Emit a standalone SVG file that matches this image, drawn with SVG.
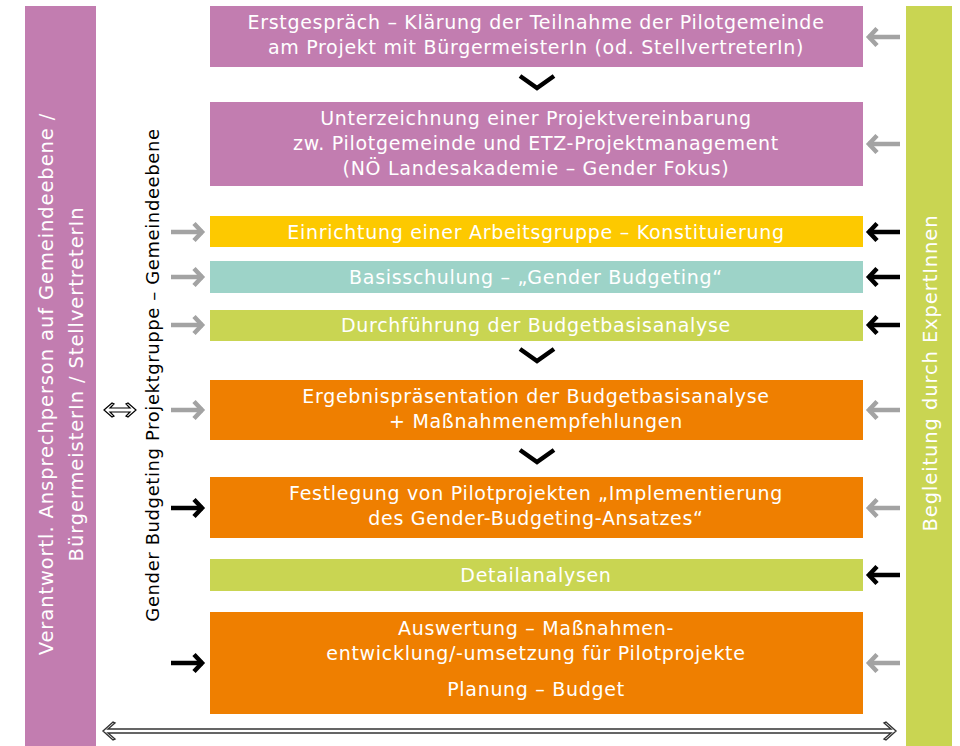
<svg xmlns="http://www.w3.org/2000/svg" xmlns:xlink="http://www.w3.org/1999/xlink" width="960" height="746" viewBox="0 0 960 746">
<style>
.box text{fill:#fff;font-family:"DejaVu Sans","Liberation Sans",sans-serif;font-size:19px;letter-spacing:0.7px;text-anchor:middle}
.pur{fill:#c27db0}.yel{fill:#fdc900}.tea{fill:#9dd3c8}.lim{fill:#c9d552}.ora{fill:#ef7f00}
.side{font-family:"DejaVu Sans","Liberation Sans",sans-serif;font-size:19.5px;letter-spacing:0.9px;text-anchor:middle}
.chev{fill:none;stroke:#000;stroke-width:4.5}
.ag{stroke:#a3a3a3}.ab{stroke:#000}
</style>
<defs>
<g id="arrow" fill="none" stroke-width="4.5">
<path d="M1,0 H33"/>
<path d="M10,-8.5 L2,0 L10,8.5"/>
</g>
</defs>
<rect id="leftcol" class="pur" x="25" y="6" width="71" height="740"/>
<rect id="rightcol" class="lim" x="906" y="6" width="46" height="740"/>
<g id="leftlabel"><text class="side" fill="#fff" transform="translate(53,384) rotate(-90)">Verantwortl. Ansprechperson auf Gemeindeebene /</text>
<text class="side" fill="#fff" transform="translate(83,384) rotate(-90)">BürgermeisterIn / StellvertreterIn</text></g>
<g id="midlabel"><text class="side" fill="#000" style="font-size:18px;letter-spacing:0.6px" transform="translate(159,375) rotate(-90)">Gender Budgeting Projektgruppe – Gemeindeebene</text></g>
<g id="rightlabel"><text class="side" fill="#fff" transform="translate(937,373) rotate(-90)">Begleitung durch ExpertInnen</text></g>

<g id="n1" class="box"><rect class="pur" x="210" y="6" width="653" height="61"/>
<text x="536" y="29">Erstgespräch – Klärung der Teilnahme der Pilotgemeinde</text>
<text x="536" y="54">am Projekt mit BürgermeisterIn (od. StellvertreterIn)</text></g>
<g id="n2" class="box"><rect class="pur" x="210" y="102" width="653" height="84"/>
<text x="536" y="125">Unterzeichnung einer Projektvereinbarung</text>
<text x="536" y="150">zw. Pilotgemeinde und ETZ-Projektmanagement</text>
<text x="536" y="175">(NÖ Landesakademie – Gender Fokus)</text></g>
<g id="n3" class="box"><rect class="yel" x="210" y="216" width="653" height="31"/>
<text x="536" y="239">Einrichtung einer Arbeitsgruppe – Konstituierung</text></g>
<g id="n4" class="box"><rect class="tea" x="210" y="261" width="653" height="32"/>
<text x="536" y="284">Basisschulung – „Gender Budgeting“</text></g>
<g id="n5" class="box"><rect class="lim" x="210" y="310" width="653" height="31"/>
<text x="536" y="332">Durchführung der Budgetbasisanalyse</text></g>
<g id="n6" class="box"><rect class="ora" x="210" y="380" width="653" height="60"/>
<text x="536" y="403">Ergebnispräsentation der Budgetbasisanalyse</text>
<text x="536" y="428">+ Maßnahmenempfehlungen</text></g>
<g id="n7" class="box"><rect class="ora" x="210" y="477" width="653" height="61"/>
<text x="536" y="500">Festlegung von Pilotprojekten „Implementierung</text>
<text x="536" y="525">des Gender-Budgeting-Ansatzes“</text></g>
<g id="n8" class="box"><rect class="lim" x="210" y="559" width="653" height="32"/>
<text x="536" y="582">Detailanalysen</text></g>
<g id="n9" class="box"><rect class="ora" x="210" y="612" width="653" height="102"/>
<text x="536" y="635">Auswertung – Maßnahmen-</text>
<text x="536" y="660">entwicklung/-umsetzung für Pilotprojekte</text>
<text x="536" y="696">Planung – Budget</text></g>

<g id="connectors">
<polyline class="chev" points="520,76 537,88 554,76"/>
<polyline class="chev" points="520,349 537,361 554,349"/>
<polyline class="chev" points="520,450 537,462 554,450"/>
<use xlink:href="#arrow" class="ag" x="867" y="37"/>
<use xlink:href="#arrow" class="ag" x="867" y="144"/>
<use xlink:href="#arrow" class="ab" x="867" y="232"/>
<use xlink:href="#arrow" class="ab" x="867" y="277"/>
<use xlink:href="#arrow" class="ab" x="867" y="325"/>
<use xlink:href="#arrow" class="ag" x="867" y="410"/>
<use xlink:href="#arrow" class="ag" x="867" y="508"/>
<use xlink:href="#arrow" class="ab" x="867" y="575"/>
<use xlink:href="#arrow" class="ag" x="867" y="663"/>
<use xlink:href="#arrow" class="ag" transform="translate(204,232) scale(-1,1)"/>
<use xlink:href="#arrow" class="ag" transform="translate(204,277) scale(-1,1)"/>
<use xlink:href="#arrow" class="ag" transform="translate(204,325) scale(-1,1)"/>
<use xlink:href="#arrow" class="ag" transform="translate(204,410) scale(-1,1)"/>
<use xlink:href="#arrow" class="ab" transform="translate(204,508) scale(-1,1)"/>
<use xlink:href="#arrow" class="ab" transform="translate(204,663) scale(-1,1)"/>
<path d="M104,410 L112,403 L114,404 L110,408 L130,408 L126,404 L128,403 L136,410 L128,417 L126,416 L130,412 L110,412 L114,416 L112,417 Z" fill="#fff" stroke="#000" stroke-width="1.2" stroke-linejoin="miter"/>
<path d="M103,731 L113,722 L115,723 L108,729 L891,729 L884,723 L886,722 L896,731 L886,740 L884,739 L891,733 L108,733 L115,739 L113,740 Z" fill="#fff" stroke="#333" stroke-width="1.4"/>
</g>
</svg>
